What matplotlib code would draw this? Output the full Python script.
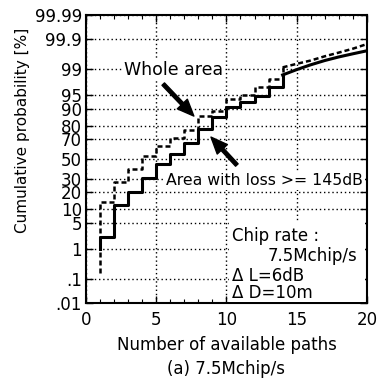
from statistics import NormalDist
import numpy as np
import matplotlib
matplotlib.use("Agg")
import matplotlib.pyplot as plt
from matplotlib.patches import Rectangle

plt.rcParams['font.family'] = ['DejaVu Sans']

# cumulative probability [%] vs. number of available paths
paths = [1, 2, 3, 4, 5, 6, 7, 8, 9, 10, 11, 12, 13, 14, 15, 16, 17, 18, 19, 20]
whole_area = [13.5, 28, 40, 53, 63, 71, 77, 86.5, 89, 93.8, 95.2, 96.8, 98, 99.1,
              99.3, 99.45, 99.6, 99.7, 99.78, 99.85]
whole_start = 0.16
loss_area = [2.2, 11.5, 20, 31, 45, 55, 66, 78, 86, 90.9, 92.8, 94.7, 96.9, 98.5,
             98.95, 99.25, 99.45, 99.58, 99.67, 99.74]
loss_start = 1.0

yticks = [0.01, 0.1, 1, 5, 10, 20, 30, 50, 70, 80, 90, 95, 99, 99.9, 99.99]
ylabels = ['.01', '.1', '1', '5', '10', '20', '30', '50', '70', '80', '90', '95',
           '99', '99.9', '99.99']

_nd = NormalDist()
_ppf = np.vectorize(_nd.inv_cdf, otypes=[float])
_cdf = np.vectorize(_nd.cdf, otypes=[float])


def prob_fwd(p):
    p = np.clip(np.asarray(p, dtype=float) / 100.0, 1e-12, 1 - 1e-12)
    return _ppf(p)


def prob_inv(z):
    return _cdf(np.asarray(z, dtype=float)) * 100.0


fig = plt.figure(figsize=(3.83, 3.84), dpi=100)
ax = fig.add_axes([0.2245, 0.211, 0.7335, 0.750])
ax.set_yscale('function', functions=(prob_fwd, prob_inv))


def draw_curve(start, vals, **kw):
    xs = [paths[0]] + paths[:14]
    ys = [start] + vals[:14]
    ax.step(xs, ys, where='post', **kw)
    ax.plot(paths[13:], vals[13:], **kw)


draw_curve(whole_start, whole_area, color='black', lw=1.8, ls=(0, (2, 1.2)), zorder=4)
draw_curve(loss_start, loss_area, color='black', lw=2.2, ls='-', zorder=5)

ax.set_xlim(0, 20)
ax.set_ylim(0.01, 99.99)
ax.set_yticks(yticks)
ax.set_yticklabels(ylabels)
ax.set_xticks([0, 5, 10, 15, 20])
ax.set_xticks(range(0, 21), minor=True)
ax.yaxis.set_minor_locator(matplotlib.ticker.NullLocator())
ax.tick_params(direction='in', top=True, right=True, labelsize=12, length=5, width=1, pad=3)
ax.tick_params(axis='x', pad=6)
ax.tick_params(which='minor', direction='in', top=True, length=3, width=0.8)
ax.grid(True, which='major', color='black', ls=(0, (1, 2)), lw=1.0)
for s in ax.spines.values():
    s.set_linewidth(1.5)

ax.set_xlabel('Number of available paths', fontsize=12, labelpad=5)
ax.set_ylabel('Cumulative probability [%]', fontsize=11)
ax.yaxis.set_label_coords(-0.2, 0.60)
fig.text(0.59, 0.040, '(a) 7.5Mchip/s', fontsize=12, ha='center', va='center')

arrow = dict(facecolor='black', edgecolor='black', width=2.5, headwidth=10, headlength=12, shrink=0)
ax.text(0.313, 0.809, 'Whole area', transform=ax.transAxes, fontsize=12.5,
        ha='center', va='center', bbox=dict(fc='white', ec='none', pad=1), zorder=6)
ax.annotate('', xy=(0.384, 0.649), xytext=(0.275, 0.760),
            xycoords='axes fraction', textcoords='axes fraction', arrowprops=arrow, zorder=6)
ax.text(0.637, 0.424, 'Area with loss >= 145dB', transform=ax.transAxes, fontsize=11.3,
        ha='center', va='center', bbox=dict(fc='white', ec='none', pad=1), zorder=6)
ax.annotate('', xy=(0.445, 0.576), xytext=(0.537, 0.479),
            xycoords='axes fraction', textcoords='axes fraction', arrowprops=arrow, zorder=6)

ax.add_patch(Rectangle((0.509, 0.004), 0.485, 0.277, transform=ax.transAxes,
                       fc='white', ec='none', zorder=3))
ax.text(0.52, 0.233, 'Chip rate :', transform=ax.transAxes, fontsize=12, va='center', zorder=6)
ax.text(0.965, 0.163, '7.5Mchip/s', transform=ax.transAxes, fontsize=12, va='center',
        ha='right', zorder=6)
ax.text(0.52, 0.094, 'Δ L=6dB', transform=ax.transAxes, fontsize=12, va='center', zorder=6)
ax.text(0.52, 0.035, 'Δ D=10m', transform=ax.transAxes, fontsize=12, va='center', zorder=6)

fig.savefig('out.png', dpi=100)
